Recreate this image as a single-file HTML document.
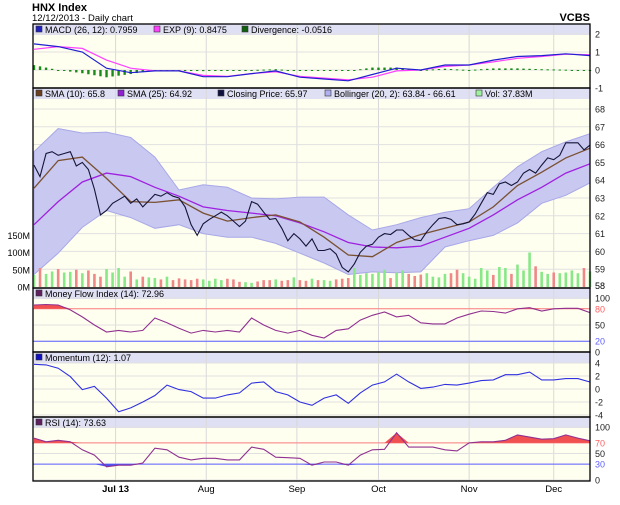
<!DOCTYPE html>
<html><head><meta charset="utf-8"><style>
body{margin:0;background:#fff;}
svg{display:block;font-family:"Liberation Sans",sans-serif;}
</style></head><body>
<svg id="c" width="620" height="505" viewBox="0 0 620 505" xmlns="http://www.w3.org/2000/svg">
<text x="32" y="11" font-size="11" font-weight="bold">HNX Index</text>
<text x="32" y="21" font-size="9.5">12/12/2013 - Daily chart</text>
<text x="590" y="21" font-size="11" font-weight="bold" text-anchor="end">VCBS</text>
<g id="g"></g>
</svg>
<script>
// ---- data ----
const closes=[64.85,64.2,65.5,65.6,65.4,65.5,65.6,64.8,65.0,64.6,63.5,62.05,62.3,62.7,62.9,63.1,62.7,62.95,62.5,62.85,63.2,63.1,63.3,63.1,63.0,62.5,61.5,60.9,61.55,61.8,62.0,62.2,62.0,61.7,61.4,61.7,62.8,62.65,62.2,61.8,61.85,61.3,60.6,61.0,60.7,60.3,60.7,60.05,60.05,60.15,59.85,59.1,58.85,59.3,59.95,60.3,60.4,60.8,61.0,60.95,61.2,61.2,60.9,60.65,60.6,61.1,61.5,61.85,61.9,61.8,61.5,61.55,61.65,62.1,62.7,63.3,63.2,63.8,63.9,63.7,63.9,64.4,64.6,64.4,64.85,65.25,65.15,65.4,66.1,66.1,66.1,65.7,65.97];
const volumes=[35,55,38,45,52,42,44,50,40,48,38,30,52,42,55,30,45,22,30,28,26,22,30,20,25,22,20,24,22,18,24,20,24,22,15,14,12,16,20,20,22,18,20,28,20,18,24,20,20,18,22,24,26,55,35,40,38,44,50,26,42,48,38,32,36,40,30,28,38,40,50,40,30,24,55,48,35,58,55,38,65,48,100,60,44,38,42,40,42,48,40,55,45];
const sma10=[63.55,65.1,65.3,64.1,62.8,62.75,62.9,62.15,61.7,61.9,62.05,61.65,60.8,59.8,59.7,60.5,60.95,61.3,61.65,62.5,63.7,64.45,65.25,65.8];
const sma25=[61.5,62.8,63.9,64.4,64.2,63.6,63.1,62.5,62.3,62.15,62.0,61.6,61.1,60.5,60.25,60.2,60.3,60.8,61.3,62.05,62.9,63.6,64.4,64.92];
const bollUpper=[65.6,66.9,66.65,66.7,66.4,65.3,63.45,63.75,63.6,63.0,62.95,63.05,63.05,62.05,61.2,61.5,61.9,62.2,62.4,63.6,64.75,65.6,66.15,66.61];
const bollLower=[58.7,59.9,61.35,62.3,61.9,61.3,61.5,61.0,60.8,60.8,60.45,59.9,59.35,58.7,58.85,58.8,58.85,60.25,60.6,60.9,61.6,62.7,63.15,63.84];
const macd=[1.45,1.3,1.0,0.1,-0.15,-0.05,-0.05,-0.37,-0.37,-0.2,-0.05,-0.4,-0.5,-0.6,-0.25,0.1,0.0,0.28,0.28,0.55,0.75,0.8,0.9,0.8];
const expSignal=[1.15,1.3,1.2,0.55,0.1,-0.05,-0.05,-0.3,-0.35,-0.2,-0.1,-0.35,-0.45,-0.55,-0.4,-0.05,0.0,0.2,0.28,0.45,0.65,0.75,0.88,0.85];
const mfi=[87,88,87,78,65,50,37,40,37,40,63,54,44,35,40,37,40,37,63,50,40,35,40,31,26,40,43,59,68,74,65,68,54,52,52,63,70,76,75,72,80,82,76,80,81,81,73];
const momentum=[3.8,3.7,3.2,1.9,-0.1,0.4,-1.4,-3.5,-2.9,-2.0,-1.0,0.6,-0.1,-0.4,-1.4,-1.4,-0.9,-0.6,0.9,1.1,-0.4,-0.9,-2.0,-2.5,-1.4,-0.9,-2.2,-0.6,0.6,1.1,2.3,1.1,0.1,0.3,0.7,0.6,0.9,1.3,1.4,2.2,2.2,2.6,1.4,1.4,1.6,1.6,1.07];
const rsi=[79,72,75,72,57,47,25,28,28,32,60,57,43,38,41,41,38,38,62,58,43,42,41,28,34,34,28,47,57,58,89,62,62,62,57,55,70,72,72,75,85,81,77,78,85,79,74];
const monthLabels=["Jul 13","Aug","Sep","Oct","Nov","Dec"];
const monthIdx=[13.5,28.5,43.5,57,72,86];
const priceTicks=[58,59,60,61,62,63,64,65,66,67,68];
const volTicks=[0,50,100,150];
const macdTicks=[-1,0,1,2];
const mfiTicks=[0,20,50,80,100];
const momTicks=[-4,-2,0,2,4];
const rsiTicks=[0,30,50,70,100];

// ---- axes ----
const X0=33,X1=590,N=closes.length;
const xd=i=>X0+1+i*(X1-X0-1)/(N-1);
const xs=(i,len)=>X0+1+i*(X1-X0-1)/(len-1);
const yP=v=>109+(68-v)*17.8;
const yV=v=>287-v*0.345;
const yM=v=>70-v*18;
const yF=v=>352-v*0.54;
const yMo=v=>389-v*6.5;
const yR=v=>480-v*0.53;
const NS="http://www.w3.org/2000/svg";
const G=document.getElementById('g');
function mk(tag,attrs,parent){const e=document.createElementNS(NS,tag);for(const k in attrs)e.setAttribute(k,attrs[k]);(parent||G).appendChild(e);return e;}
function txt(s,x,y,attrs){const e=mk('text',Object.assign({x:x,y:y,'font-size':9.5},attrs||{}));e.textContent=s;return e;}
function pts(arr,yf){return arr.map((v,i)=>xs(i,arr.length).toFixed(1)+','+yf(v).toFixed(1)).join(' ');}
function interp(arr,i){const t=i*(arr.length-1)/(N-1);const a=Math.floor(t),b=Math.min(a+1,arr.length-1);return arr[a]+(arr[b]-arr[a])*(t-a);}

const panels=[
 {top:24,bot:88,name:'macd-panel'},
 {top:88,bot:288,name:'price-panel'},
 {top:288,bot:352,name:'mfi-panel'},
 {top:352,bot:417,name:'momentum-panel'},
 {top:417,bot:481,name:'rsi-panel'}];
panels.forEach(p=>{
 const r=mk('rect',{x:X0,y:p.top,width:X1-X0,height:p.bot-p.top,fill:'#fffff0'});
 
 
 const h=mk('rect',{x:X0,y:p.top,width:X1-X0,height:11,fill:'#e0e0f4'});
 
 
 monthIdx.forEach(mi=>{
  const l=mk('line',{x1:xd(mi),x2:xd(mi),y1:p.top,y2:p.bot,stroke:'#d8d8d8','stroke-width':1});
  
  
 });
});
function hgrid(ticks,yf,cls,fmt,colors){
 ticks.forEach((t,k)=>{
  const l=mk('line',{x1:X0,x2:X1,y1:yf(t),y2:yf(t),stroke:'#e0e0e0'});
  
  
  const e=txt(fmt?fmt(t):String(t),595,yf(t)+3.5,{'font-size':9,fill:(colors&&colors[k])||'#222'});
  
  
 });
}
hgrid(macdTicks,yM,'macd');
hgrid(priceTicks.slice(1),yP,'price');
{const e=txt('58',595,yP(58)+2,{'font-size':9});}
hgrid(mfiTicks,yF,'mfi',null,['#222','#6060ff','#222','#ff6060','#222']);
hgrid(momTicks,yMo,'momentum');
hgrid(rsiTicks,yR,'rsi',null,['#222','#6060ff','#222','#ff6060','#222']);
volTicks.forEach(v=>{
 const e=txt(v+'M',30,yV(v)+3.5,{'font-size':9,'text-anchor':'end'});
 
 
});

// ---- MACD ----
for(let i=0;i<N;i++){
 const d=interp(macd,i)-interp(expSignal,i);
 const y0=yM(0),y1=yM(d*0.9);
 const b=mk('rect',{x:xd(i)-1.2,y:Math.min(y0,y1),width:2.4,height:Math.max(1,Math.abs(y1-y0)),fill:'#1a8a1a'});
 
 
}
{const l=mk('polyline',{points:pts(expSignal,yM),fill:'none',stroke:'#ff40ff','stroke-width':1.2});}
{const l=mk('polyline',{points:pts(macd,yM),fill:'none',stroke:'#2020d0','stroke-width':1.2});}

// ---- price ----
{
 const up=bollUpper.map((v,i)=>xs(i,bollUpper.length).toFixed(1)+','+yP(v).toFixed(1));
 const lo=bollLower.map((v,i)=>xs(i,bollLower.length).toFixed(1)+','+yP(v).toFixed(1)).reverse();
 const b=mk('polygon',{points:up.concat(lo).join(' '),fill:'#c8c8f0',stroke:'#a8a8e8','stroke-width':1});
 
 
}
for(let i=0;i<N;i++){
 const upd=i===0||closes[i]>=closes[i-1];
 const b=mk('rect',{x:xd(i)-1.3,y:yV(volumes[i]),width:2.6,height:287-yV(volumes[i]),fill:upd?'#88e888':'#f08888'});
 
 
}
{const l=mk('polyline',{points:pts(sma25,yP),fill:'none',stroke:'#a020e0','stroke-width':1.3});}
{const l=mk('polyline',{points:pts(sma10,yP),fill:'none',stroke:'#7a5030','stroke-width':1.3});}
{const l=mk('polyline',{points:pts(closes,yP),fill:'none',stroke:'#141438','stroke-width':1.1});}

// ---- oscillators with threshold fills ----
function osc(arr,yf,hi,lo,name,color){
 const len=arr.length;
 const hl=mk('line',{x1:X0,x2:X1,y1:yf(hi),y2:yf(hi),stroke:'#ff8080'});
 
 
 const ll=mk('line',{x1:X0,x2:X1,y1:yf(lo),y2:yf(lo),stroke:'#6060ff'});
 
 
 const top=arr.map((v,i)=>xs(i,len).toFixed(1)+','+yf(Math.max(v,hi)).toFixed(1));
 const f1=mk('polygon',{points:[xs(0,len)+','+yf(hi)].concat(top,[xs(len-1,len)+','+yf(hi)]).join(' '),fill:'#f05050'});
 
 
 const bot=arr.map((v,i)=>xs(i,len).toFixed(1)+','+yf(Math.min(v,lo)).toFixed(1));
 const f2=mk('polygon',{points:[xs(0,len)+','+yf(lo)].concat(bot,[xs(len-1,len)+','+yf(lo)]).join(' '),fill:'#5050f0'});
 
 
 const l=mk('polyline',{points:pts(arr,yf),fill:'none',stroke:color,'stroke-width':1.1});
 
 
}
osc(mfi,yF,80,20,'mfi','#903090');
{const l=mk('polyline',{points:pts(momentum,yMo),fill:'none',stroke:'#3030e0','stroke-width':1.1});}
osc(rsi,yR,70,30,'rsi','#903090');

// ---- borders ----
panels.forEach(p=>{
 const r=mk('rect',{x:X0,y:p.top,width:X1-X0,height:p.bot-p.top,fill:'none',stroke:'#000','stroke-width':1.3});
 
 
});

// ---- legends ----
function legend(items,y){
 items.forEach(it=>{
  const s=mk('rect',{x:it[0],y:y-7,width:6,height:6,fill:it[2],stroke:'#333','stroke-width':0.6});
  
  
  const t=txt(it[1],it[0]+9,y,{'font-size':9});
  
  
 });
}
legend([[36,'MACD (26, 12): 0.7959','#2020c0'],[154,'EXP (9): 0.8475','#ff40ff'],[242,'Divergence: -0.0516','#106010']],33);
legend([[36,'SMA (10): 65.8','#6a4020'],[118,'SMA (25): 64.92','#9020d0'],[218,'Closing Price: 65.97','#101040'],[325,'Bollinger (20, 2): 63.84 - 66.61','#b0b0f0'],[476,'Vol: 37.83M','#a0f0a0']],97);
legend([[36,'Money Flow Index (14): 72.96','#602060']],297);
legend([[36,'Momentum (12): 1.07','#1010c0']],361);
legend([[36,'RSI (14): 73.63','#602060']],426);

monthLabels.forEach((m,k)=>{
 const t=txt(m,xd(monthIdx[k]),492,{'font-size':9.5,'text-anchor':'middle','font-weight':k===0?'bold':'normal'});
 
 
});
</script>
</body></html>
